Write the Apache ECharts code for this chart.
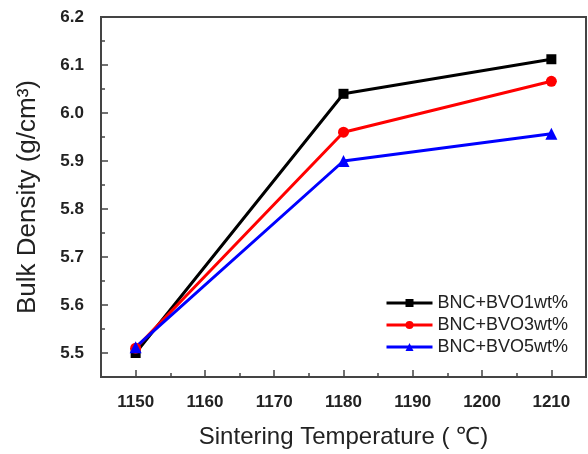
<!DOCTYPE html>
<html>
<head>
<meta charset="utf-8">
<script src="https://cdn.jsdelivr.net/npm/echarts@6/dist/echarts.min.js"></script>
<style>
  html, body { margin: 0; padding: 0; background: #fff; }
  #chart { width: 588px; height: 454px; }
</style>
</head>
<body>
<div id="chart"></div>
<script>
var temps = [1150, 1180, 1210];
var bvo1 = [5.50, 6.04, 6.112];
var bvo3 = [5.51, 5.96, 6.066];
var bvo5 = [5.512, 5.90, 5.957];
var seriesNames = ['BNC+BVO1wt%', 'BNC+BVO3wt%', 'BNC+BVO5wt%'];
var xMajor = [1150, 1160, 1170, 1180, 1190, 1200, 1210];
var xMinor = [1155, 1165, 1175, 1185, 1195, 1205];
var yMajor = [5.5, 5.6, 5.7, 5.8, 5.9, 6.0, 6.1, 6.2];
var yMinor = [5.55, 5.65, 5.75, 5.85, 5.95, 6.05, 6.15];

function pairs(ys) {
    return temps.map(function (t, i) { return [t, ys[i]]; });
}

var axisColor = '#444';
var chart = echarts.init(document.getElementById('chart'));

function lineSeries(name, data, color, symbol, size) {
    return {
        name: name,
        type: 'line',
        data: pairs(data),
        symbol: symbol,
        symbolSize: size,
        lineStyle: { color: color, width: 3 },
        itemStyle: { color: color },
        animation: false
    };
}

var option = {
    backgroundColor: '#fff',
    grid: {
        left: 101, top: 17, right: 2, bottom: 76,
        show: true, borderColor: axisColor, borderWidth: 2, backgroundColor: 'transparent'
    },
    legend: {
        orient: 'vertical',
        left: 385, top: 294,
        padding: 0,
        itemWidth: 46, itemHeight: 10, itemGap: 4,
        lineStyle: { width: 3 },
        textStyle: { fontFamily: 'Liberation Sans, Arial', fontSize: 18, color: '#222' },
        data: seriesNames
    },
    xAxis: [{
        type: 'value', min: 1145, max: 1215,
        name: 'Sintering Temperature ( ℃)',
        nameLocation: 'middle', nameGap: 48,
        nameTextStyle: { fontFamily: 'Liberation Sans, Arial', fontSize: 24, color: '#222' },
        axisLine: { show: true, lineStyle: { color: axisColor, width: 2 } },
        axisTick: { show: true, inside: true, length: 7, customValues: xMajor, lineStyle: { color: axisColor, width: 1.5 } },
        axisLabel: {
            customValues: xMajor, margin: 17,
            formatter: function (v) { return String(v); },
            fontFamily: 'Liberation Sans, Arial', fontWeight: 'bold', fontSize: 17, color: '#222'
        },
        splitLine: { show: false }
    }, {
        type: 'value', min: 1145, max: 1215, position: 'bottom',
        axisLine: { show: false },
        axisTick: { show: true, inside: true, length: 4, customValues: xMinor, lineStyle: { color: axisColor, width: 1.5 } },
        axisLabel: { show: false },
        splitLine: { show: false }
    }],
    yAxis: [{
        type: 'value', min: 5.45, max: 6.2,
        name: 'Bulk Density (g/cm³)',
        nameLocation: 'middle', nameGap: 60,
        nameTextStyle: { fontFamily: 'Liberation Sans, Arial', fontSize: 26, color: '#222' },
        axisLine: { show: true, lineStyle: { color: axisColor, width: 2 } },
        axisTick: { show: true, inside: true, length: 7, customValues: yMajor, lineStyle: { color: axisColor, width: 1.5 } },
        axisLabel: {
            customValues: yMajor, margin: 17,
            formatter: function (v) { return v.toFixed(1); },
            fontFamily: 'Liberation Sans, Arial', fontWeight: 'bold', fontSize: 17, color: '#222'
        },
        splitLine: { show: false }
    }, {
        type: 'value', min: 5.45, max: 6.2, position: 'left',
        axisLine: { show: false },
        axisTick: { show: true, inside: true, length: 4, customValues: yMinor, lineStyle: { color: axisColor, width: 1.5 } },
        axisLabel: { show: false },
        splitLine: { show: false }
    }],
    series: [
        lineSeries(seriesNames[0], bvo1, '#000000', 'rect', 10),
        lineSeries(seriesNames[1], bvo3, '#ff0000', 'circle', 11),
        lineSeries(seriesNames[2], bvo5, '#0000ff', 'triangle', 12)
    ]
};
chart.setOption(option);
</script>
</body>
</html>
